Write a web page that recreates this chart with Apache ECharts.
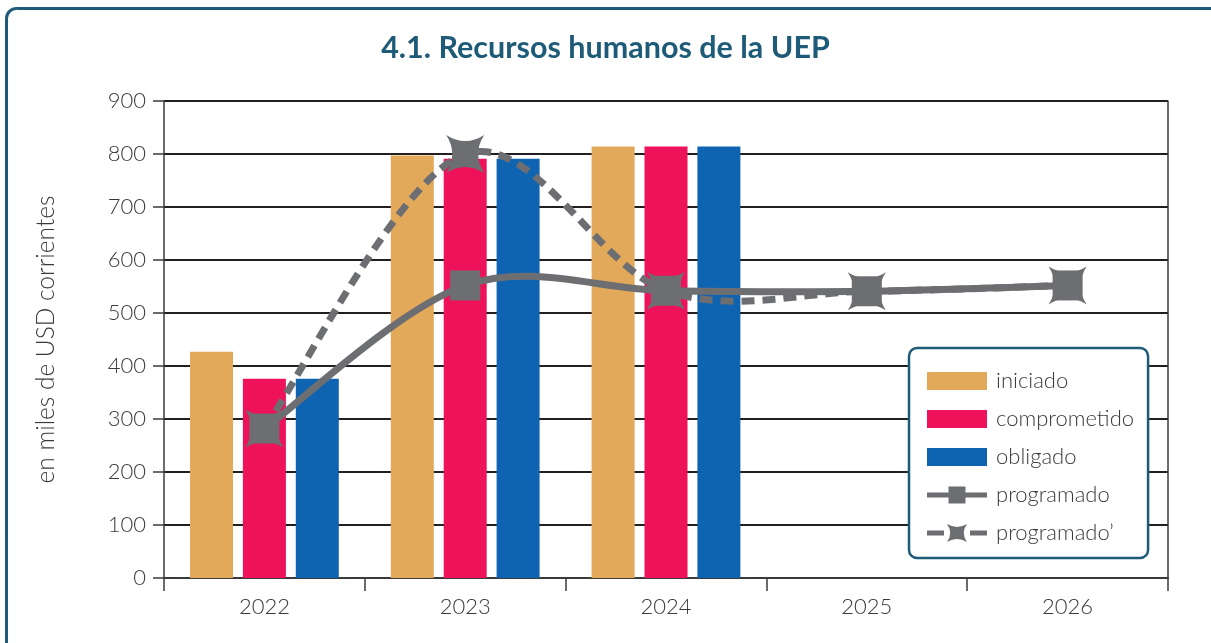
<!DOCTYPE html>
<html>
<head>
<meta charset="utf-8">
<title>4.1. Recursos humanos de la UEP</title>
<script src="https://cdn.jsdelivr.net/npm/echarts@6/dist/echarts.min.js"></script>
<style>
  html, body { margin: 0; padding: 0; background: #ffffff; }
  #chart { width: 1211px; height: 643px; }
</style>
</head>
<body>
<div id="chart"></div>
<script>
// Years on the category axis
const years = ['2022', '2023', '2024', '2025', '2026'];

// Budget execution, thousands of current USD
const iniciado     = [427, 797, 814, null, null];
const comprometido = [376, 791, 814, null, null];
const obligado     = [376, 791, 814, null, null];

// Planned amounts (two versions of the plan)
const programado      = [282, 552, 542, 541, 552];
const programadoPrima = [282, 800, 542, 541, 552];

// Value axis ticks
const yTicks = [0, 100, 200, 300, 400, 500, 600, 700, 800, 900];

const TEAL = '#1d5b78';
const GREY = '#6d6e71';
const AXIS = '#231f20';
const TEXT = '#3a3a3a';
const LABEL_FONT = 'Lato, "Open Sans", sans-serif';

// Four-pointed concave star (points on the diagonals), in a 100x100 box
const STAR_D = 'M0,0 Q50,32 100,0 Q68,50 100,100 Q50,68 0,100 Q32,50 0,0 Z';

// Legend icons for the two planned series: line + marker in a 60x18 box
const ICON_PROG = 'path://M0,6.5 H60 V11.5 H0 Z M21.5,0.5 H38.5 V17.5 H21.5 Z';
const ICON_PROG2 = 'path://M0,6.5 H17 V11.5 H0 Z M43,6.5 H60 V11.5 H43 Z ' +
  'M20,0 Q30,5.8 40,0 Q33.6,9 40,18 Q30,12.2 20,18 Q26.4,9 20,0 Z';

// Smooth curve through the points (cubic Bezier, Catmull-Rom tangents)
function smoothPath(pts) {
  const n = pts.length;
  let d = 'M' + pts[0][0] + ',' + pts[0][1];
  for (let i = 0; i < n - 1; i++) {
    const p0 = pts[Math.max(i - 1, 0)];
    const p1 = pts[i];
    const p2 = pts[i + 1];
    const p3 = pts[Math.min(i + 2, n - 1)];
    const c1x = p1[0] + (p2[0] - p0[0]) / 6;
    const c1y = p1[1] + (p2[1] - p0[1]) / 6;
    const c2x = p2[0] - (p3[0] - p1[0]) / 6;
    const c2y = p2[1] - (p3[1] - p1[1]) / 6;
    d += ' C' + c1x + ',' + c1y + ' ' + c2x + ',' + c2y + ' ' + p2[0] + ',' + p2[1];
  }
  return d;
}

// Builds a custom series that draws a smoothed line with a marker per point
function plannedSeries(name, values, dashed, marker, z) {
  return {
    name: name,
    type: 'custom',
    coordinateSystem: 'cartesian2d',
    data: values.map(function (v, i) { return [i, v]; }),
    encode: { x: 0, y: 1 },
    itemStyle: { color: GREY },
    z: z,
    renderItem: function (params, api) {
      const children = [];
      if (params.dataIndex === 0) {
        const pts = values.map(function (v, i) { return api.coord([i, v]); });
        children.push({
          type: 'path',
          shape: { pathData: smoothPath(pts) },
          style: {
            fill: 'none',
            stroke: GREY,
            lineWidth: 7,
            lineDash: dashed ? [13, 8] : null,
            lineCap: 'butt',
            lineJoin: 'round'
          },
          z2: 0
        });
      }
      const c = api.coord([api.value(0), api.value(1)]);
      if (marker === 'square') {
        children.push({
          type: 'rect',
          shape: { x: c[0] - 15, y: c[1] - 15, width: 30, height: 30 },
          style: { fill: GREY },
          z2: 10
        });
      } else {
        children.push({
          type: 'path',
          shape: { pathData: STAR_D, x: c[0] - 19, y: c[1] - 19, width: 38, height: 38 },
          style: { fill: GREY },
          z2: 10
        });
      }
      return { type: 'group', children: children };
    }
  };
}

const chart = echarts.init(document.getElementById('chart'), null, { renderer: 'canvas' });

chart.setOption({
  backgroundColor: '#ffffff',
  animation: false,
  title: {
    text: '4.1. Recursos humanos de la UEP',
    left: 'center',
    top: 28,
    textStyle: {
      color: TEAL,
      fontFamily: LABEL_FONT,
      fontWeight: 'bold',
      fontSize: 30.5
    }
  },
  graphic: [{
    type: 'rect',
    shape: { x: 6.5, y: 8.5, width: 1230, height: 700, r: 10 },
    style: { fill: 'none', stroke: TEAL, lineWidth: 3 },
    silent: true,
    z: -1
  }],
  grid: { left: 164, right: 43, top: 101, bottom: 65, containLabel: false },
  legend: {
    orient: 'vertical',
    left: 909,
    top: 348,
    padding: [22, 14, 14, 18],
    itemWidth: 60,
    itemHeight: 18,
    itemGap: 16,
    borderColor: TEAL,
    borderWidth: 2.5,
    borderRadius: 8,
    backgroundColor: '#ffffff',
    itemStyle: { borderWidth: 0 },
    data: [
      { name: 'iniciado', icon: 'rect' },
      { name: 'comprometido', icon: 'rect' },
      { name: 'obligado', icon: 'rect' },
      { name: 'programado', icon: ICON_PROG },
      { name: 'programado\u2019', icon: ICON_PROG2 }
    ],
    textStyle: {
      color: TEXT,
      fontFamily: LABEL_FONT,
      fontWeight: 300,
      fontSize: 22,
      lineHeight: 18,
      padding: [0, 0, 0, 4]
    }
  },
  xAxis: {
    type: 'category',
    data: years,
    boundaryGap: true,
    axisLine: { show: true, lineStyle: { color: '#3b3b3b', width: 2 } },
    axisTick: { show: true, length: 13, alignWithLabel: false, lineStyle: { color: '#3b3b3b', width: 1.5 } },
    axisLabel: {
      color: TEXT,
      fontFamily: LABEL_FONT,
      fontWeight: 300,
      fontSize: 22,
      margin: 18
    },
    splitLine: { show: false }
  },
  yAxis: [{
    type: 'value',
    min: yTicks[0],
    max: yTicks[yTicks.length - 1],
    interval: yTicks[1] - yTicks[0],
    name: 'en miles de USD corrientes',
    nameLocation: 'middle',
    nameGap: 105,
    nameRotate: 90,
    nameTextStyle: {
      color: TEXT,
      fontFamily: LABEL_FONT,
      fontWeight: 300,
      fontSize: 24.5
    },
    axisLine: { show: true, lineStyle: { color: '#3b3b3b', width: 1.5 } },
    axisTick: { show: true, inside: false, length: 11, lineStyle: { color: '#3b3b3b', width: 1.5 } },
    axisLabel: {
      color: TEXT,
      fontFamily: LABEL_FONT,
      fontWeight: 300,
      fontSize: 22,
      margin: 18
    },
    splitLine: { show: true, lineStyle: { color: AXIS, width: 2 } }
  }, {
    type: 'value',
    position: 'right',
    min: yTicks[0],
    max: yTicks[yTicks.length - 1],
    interval: yTicks[1] - yTicks[0],
    axisLine: { show: true, lineStyle: { color: '#3b3b3b', width: 1.5 } },
    axisTick: { show: false },
    axisLabel: { show: false },
    splitLine: { show: false }
  }],
  series: [
    {
      name: 'iniciado',
      type: 'bar',
      data: iniciado,
      barWidth: 43,
      barGap: '23%',
      itemStyle: { color: '#e3a95b' },
      z: 2
    },
    {
      name: 'comprometido',
      type: 'bar',
      data: comprometido,
      barWidth: 43,
      barGap: '23%',
      itemStyle: { color: '#ee125a' },
      z: 2
    },
    {
      name: 'obligado',
      type: 'bar',
      data: obligado,
      barWidth: 43,
      barGap: '23%',
      itemStyle: { color: '#0f64b2' },
      z: 2
    },
    plannedSeries('programado\u2019', programadoPrima, true, 'star', 3),
    plannedSeries('programado', programado, false, 'square', 4)
  ]
});
</script>
</body>
</html>
